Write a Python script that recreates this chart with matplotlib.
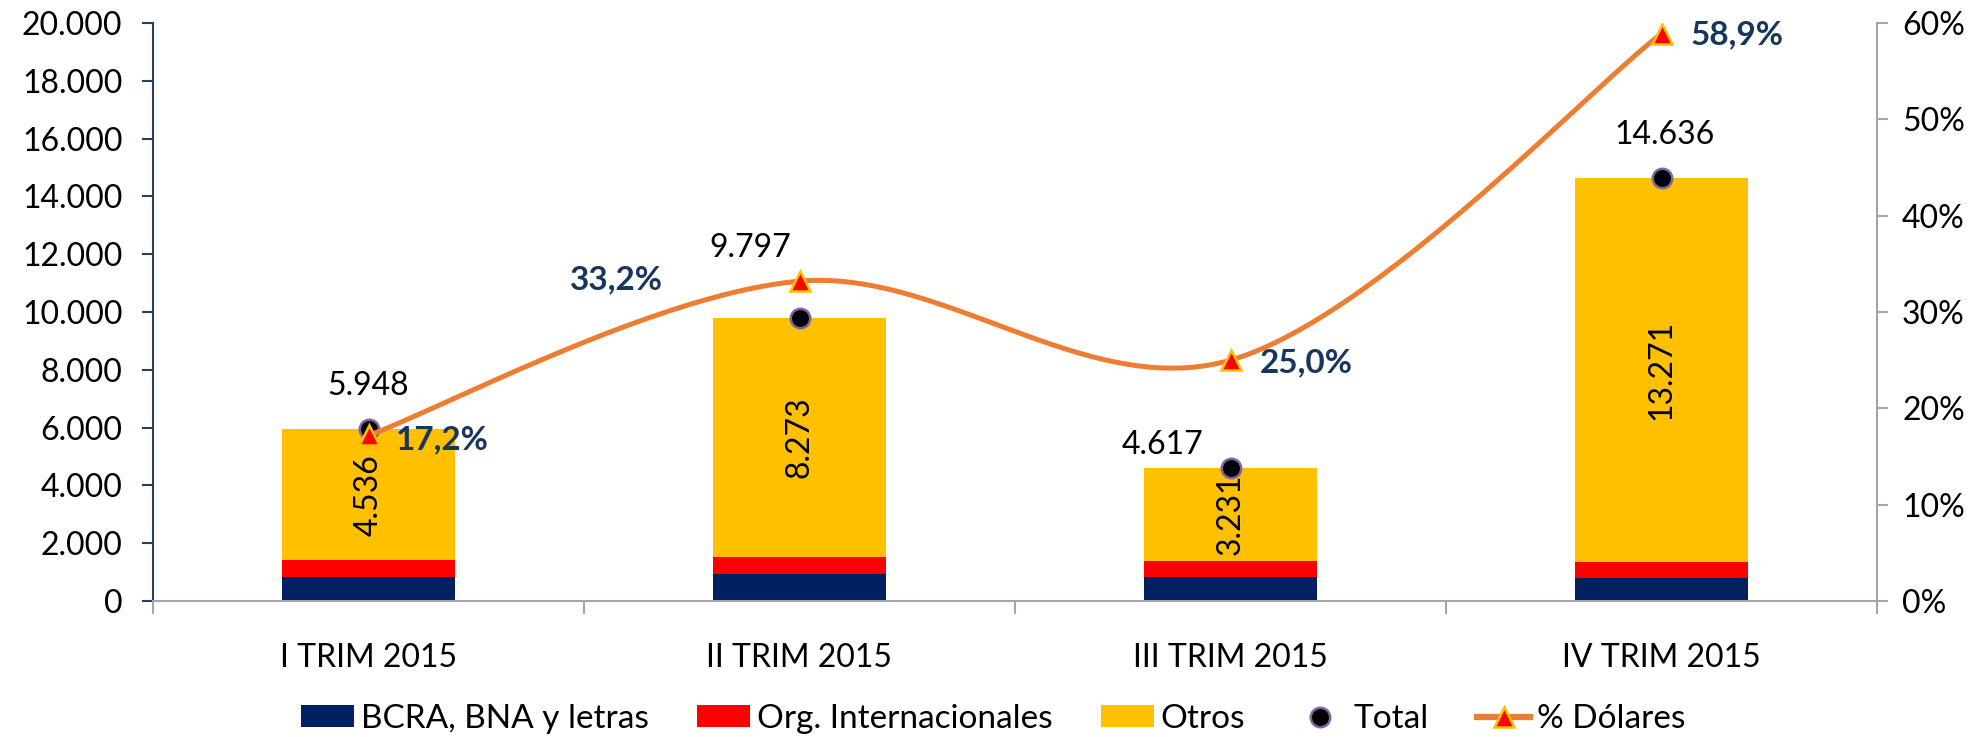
import matplotlib
matplotlib.use("Agg")
import matplotlib.pyplot as plt
import numpy as np
from matplotlib.lines import Line2D
from matplotlib.patches import Patch
from matplotlib.ticker import FuncFormatter, FixedLocator

plt.rcParams['font.family'] = ['Lato', 'DejaVu Sans']

# ---- data ----
categories = ["I TRIM 2015", "II TRIM 2015", "III TRIM 2015", "IV TRIM 2015"]
bcra = [820, 920, 820, 780]
org_int = [592, 604, 566, 585]
otros = [4536, 8273, 3231, 13271]
total = [5948, 9797, 4617, 14636]
pct_dolares = [17.2, 33.2, 25.0, 58.9]

# ---- style ----
C_NAVY = "#002060"
C_RED = "#FF0000"
C_YEL = "#FFC000"
C_LINE = "#ED7D31"
C_PCT = "#17365D"
FS = 23

pct_offsets = [(27, -5, 'left'), (-137, 1, 'right'), (29, -3, 'left'), (29, -1, 'left')]
tot_offsets = [(0, 43), (-49, 70), (-68, 23), (3, 43)]

fig = plt.figure(figsize=(19.86, 7.37), dpi=100)
ax = fig.add_axes([153/1986, 136/737, (1877-153)/1986, (601-23)/737])
x = np.arange(len(categories))
w = 0.40

ax.bar(x, bcra, w, color=C_NAVY, zorder=2)
bottom2 = np.array(bcra)
ax.bar(x, org_int, w, bottom=bottom2, color=C_RED, zorder=2)
bottom3 = bottom2 + np.array(org_int)
ax.bar(x, otros, w, bottom=bottom3, color=C_YEL, zorder=2)

def fmt_thousands(v):
    return f"{int(round(v)):,}".replace(",", ".")

for xi, b, v in zip(x, bottom3, otros):
    ax.text(xi, b + v / 2, fmt_thousands(v), rotation=90, ha='center', va='center',
            fontsize=FS, color='black', zorder=5)

ax.plot(x, total, linestyle='none', marker='o', ms=14, mfc='black', mec='#8064A2',
        mew=1.8, zorder=4)
for xi, v, (dx, dy) in zip(x, total, tot_offsets):
    ax.annotate(fmt_thousands(v), (xi, v), xytext=(dx, dy), textcoords='offset pixels',
                ha='center', va='center', fontsize=FS, color='black')

ax.set_xlim(-0.5, len(categories) - 0.5)
ax.set_ylim(0, 20000)
ax.set_yticks(np.arange(0, 20001, 2000))
ax.yaxis.set_major_formatter(FuncFormatter(lambda v, p: fmt_thousands(v)))
ax.set_xticks(x)
ax.set_xticklabels(categories)
ax.xaxis.set_minor_locator(FixedLocator(np.arange(-0.5, len(categories), 1.0)))
ax.tick_params(axis='x', which='major', length=0, pad=30, labelsize=FS)
ax.tick_params(axis='x', which='minor', length=9, width=1.5, color='#A6A6A6', direction='out')
ax.tick_params(axis='y', length=8, width=1.5, color='#243F60', pad=14, labelsize=FS)
for s in ['top', 'right']:
    ax.spines[s].set_visible(False)
ax.spines['left'].set_color('#243F60')
ax.spines['left'].set_linewidth(1.5)
ax.spines['bottom'].set_color('#A6A6A6')
ax.spines['bottom'].set_linewidth(1.5)

# secondary axis
ax2 = ax.twinx()
ax2.set_ylim(0, 60)
ax2.set_yticks(np.arange(0, 61, 10))
ax2.yaxis.set_major_formatter(FuncFormatter(lambda v, p: f"{int(v)}%"))
ax2.tick_params(axis='y', length=8, width=1.5, color='#A6A6A6', pad=10, labelsize=FS)
for s in ['top', 'left', 'bottom']:
    ax2.spines[s].set_visible(False)
ax2.spines['right'].set_color('#A6A6A6')
ax2.spines['right'].set_linewidth(1.5)

# smooth line (Excel-style Catmull-Rom Bezier through data points)
def smooth(xs, ys, n=60):
    P = np.column_stack([xs, ys]).astype(float)
    out = []
    for i in range(len(P) - 1):
        p0 = P[i - 1] if i > 0 else P[i]
        p1, p2 = P[i], P[i + 1]
        p3 = P[i + 2] if i + 2 < len(P) else P[i + 1]
        c1 = p1 + (p2 - p0) / 6
        c2 = p2 - (p3 - p1) / 6
        t = np.linspace(0, 1, n)[:, None]
        seg = ((1 - t) ** 3) * p1 + 3 * ((1 - t) ** 2) * t * c1 + 3 * (1 - t) * t ** 2 * c2 + t ** 3 * p2
        out.append(seg if i == 0 else seg[1:])
    out = np.vstack(out)
    return out[:, 0], out[:, 1]

sx, sy = smooth(x, pct_dolares)
ax2.plot(sx, sy, color=C_LINE, lw=3.6, solid_capstyle='round', zorder=3)
ax2.plot(x, pct_dolares, linestyle='none', marker='^', ms=15, mfc=C_RED, mec=C_YEL,
         mew=1.8, zorder=4)
for xi, v, (dx, dy, ha) in zip(x, pct_dolares, pct_offsets):
    ax2.annotate(f"{v:.1f}".replace(".", ",") + "%", (xi, v), xytext=(dx, dy),
                 textcoords='offset pixels', ha=ha, va='center', fontsize=24,
                 fontweight='bold', color=C_PCT)

handles = [
    Patch(facecolor=C_NAVY, label="BCRA, BNA y letras"),
    Patch(facecolor=C_RED, label="Org. Internacionales"),
    Patch(facecolor=C_YEL, label="Otros"),
    Line2D([], [], linestyle='none', marker='o', ms=14, mfc='black', mec='#8064A2', mew=1.8, label="Total"),
    Line2D([], [], color=C_LINE, lw=4.5, marker='^', ms=15, mfc=C_RED, mec=C_YEL, mew=1.8, label="% Dólares"),
]
fig.legend(handles=handles, loc='center', bbox_to_anchor=(0.5, 1 - 719/737), ncol=5,
           frameon=False, fontsize=24, handlelength=1.6, handleheight=0.64,
           handletextpad=0.2, columnspacing=1.45, borderpad=0)

fig.savefig("out.png", dpi=100)
